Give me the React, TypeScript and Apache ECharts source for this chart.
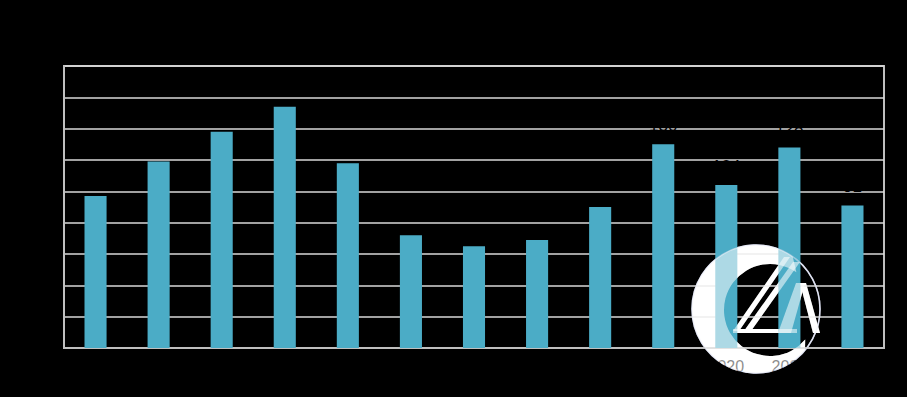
import React, { useEffect, useRef } from "react";
import * as echarts from "echarts";

const categories = ["2010", "2011", "2012", "2013", "2014", "2015", "2016", "2017", "2018", "2019", "2020", "2021", "2022"];
const values = [97, 119, 138, 154, 118, 72, 65, 69, 90, 130, 104, 128, 91];
const labeledCategories = ["2019", "2020", "2021", "2022"];
const yTicks = { min: 0, max: 180, interval: 20 };

const LOGO_C = "M 36.7 -52.4 A 64 64 0 1 0 49 41.1 L 49.2 30.6 A 46 46 0 1 1 40.4 -36.7 Z";
let registered = false;

function logoElements(opacity: number, z: number) {
  const fill = "#ffffff";
  return {
    type: "group",
    x: 756,
    y: 309,
    z,
    silent: true,
    children: [
      { type: "circle", z, shape: { cx: 0, cy: 0, r: 64 }, style: { fill: "none", stroke: "#dfe2f2", lineWidth: 1.5, opacity } },
      { type: "logoC", z, style: { fill, opacity } },
      { type: "polygon", z, shape: { points: [[28, -52], [34, -52], [-17, 22], [-23, 22]] }, style: { fill, opacity } },
      { type: "polygon", z, shape: { points: [[37, -47], [44, -47], [-5, 22], [-12, 22]] }, style: { fill, opacity } },
      { type: "rect", z, shape: { x: -23, y: 20, width: 64, height: 4 }, style: { fill, opacity } },
      { type: "polygon", z, shape: { points: [[40, -26], [49, -26], [35, 24], [22, 24]] }, style: { fill, opacity } },
      { type: "polygon", z, shape: { points: [[44, -26], [50, -26], [64, 24], [57, 24]] }, style: { fill, opacity } },
    ],
  };
}

export default function App() {
  const ref = useRef<HTMLDivElement>(null);
  useEffect(() => {
    document.body.style.margin = "0";
    document.body.style.background = "#000";
    if (!registered) {
      echarts.graphic.registerShape("logoC", echarts.graphic.extendPath(LOGO_C, {}));
      registered = true;
    }
    const chart = echarts.init(ref.current!, null, { renderer: "svg" });
    chart.setOption({
      animation: false,
      backgroundColor: "#000",
      textStyle: { fontFamily: "Liberation Sans, Arial, sans-serif" },
      grid: { left: 64, right: 23, top: 66, bottom: 49, show: true, borderColor: "#bfbfbf", borderWidth: 2, backgroundColor: "transparent" },
      xAxis: {
        type: "category",
        data: categories,
        axisLine: { lineStyle: { color: "#bfbfbf", width: 2 } },
        axisTick: { show: false },
        axisLabel: { color: "#000", fontSize: 16, margin: 10 },
      },
      yAxis: {
        type: "value",
        min: yTicks.min,
        max: yTicks.max,
        interval: yTicks.interval,
        axisLine: { show: true, lineStyle: { color: "#bfbfbf", width: 2 } },
        axisTick: { show: false },
        axisLabel: { color: "#000", fontSize: 16 },
        splitLine: { lineStyle: { color: "#d9d9d9", width: 1.5 } },
      },
      series: [
        {
          type: "bar",
          barWidth: "35%",
          itemStyle: { color: "#4BACC6" },
          label: { position: "top", distance: 10, color: "#000", fontSize: 17 },
          data: values.map((v, i) => ({ value: v, label: { show: labeledCategories.includes(categories[i]) } })),
        },
      ],
      graphic: { elements: [logoElements(1, -1), logoElements(0.55, 50)] },
    });
    return () => chart.dispose();
  }, []);
  return <div ref={ref} style={{ width: 907, height: 397 }} />;
}
